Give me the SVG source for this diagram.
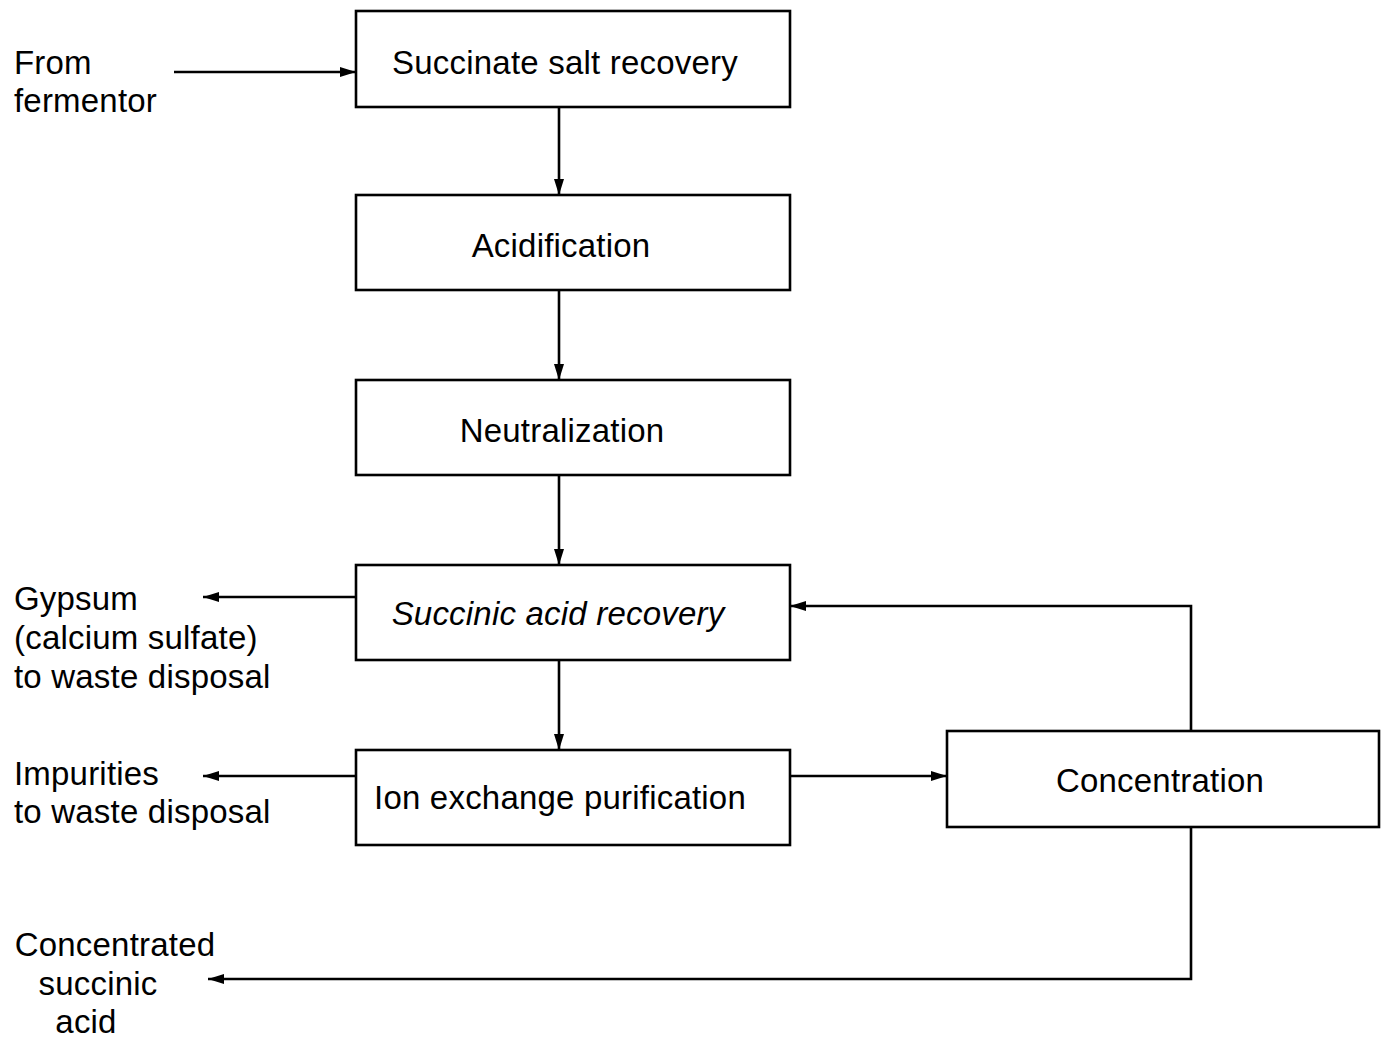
<svg xmlns="http://www.w3.org/2000/svg" width="1386" height="1039" viewBox="0 0 1386 1039">
<style>
.box{fill:#fff;stroke:#000;stroke-width:2.6}
.ln{fill:none;stroke:#000;stroke-width:2.6}
text{font-family:"Liberation Sans",Arial,sans-serif;font-size:33px;fill:#000;letter-spacing:0.2px}
.c{text-anchor:middle}
</style>
<defs>
<marker id="ah" viewBox="0 0 16 12" refX="16" refY="6" markerWidth="16" markerHeight="12" markerUnits="userSpaceOnUse" orient="auto">
<path d="M0,1 L16,6 L0,11 Z" fill="#000"/>
</marker>
</defs>
<rect width="1386" height="1039" fill="#fff"/>
<g id="connectors">
<line class="ln" x1="174" y1="72" x2="356" y2="72" marker-end="url(#ah)"/>
<line class="ln" x1="559" y1="107" x2="559" y2="195" marker-end="url(#ah)"/>
<line class="ln" x1="559" y1="290" x2="559" y2="380" marker-end="url(#ah)"/>
<line class="ln" x1="559" y1="475" x2="559" y2="565" marker-end="url(#ah)"/>
<line class="ln" x1="559" y1="660" x2="559" y2="750" marker-end="url(#ah)"/>
<line class="ln" x1="356" y1="597" x2="203" y2="597" marker-end="url(#ah)"/>
<line class="ln" x1="356" y1="776" x2="203" y2="776" marker-end="url(#ah)"/>
<line class="ln" x1="790" y1="776" x2="947" y2="776" marker-end="url(#ah)"/>
<polyline class="ln" points="1191,731 1191,606 790,606" marker-end="url(#ah)"/>
<polyline class="ln" points="1191,827 1191,979 208,979" marker-end="url(#ah)"/>
</g>
<g id="n1"><rect class="box" x="356" y="11" width="434" height="96"/><text class="c" x="565" y="74">Succinate salt recovery</text></g>
<g id="n2"><rect class="box" x="356" y="195" width="434" height="95"/><text class="c" x="561" y="257">Acidification</text></g>
<g id="n3"><rect class="box" x="356" y="380" width="434" height="95"/><text class="c" x="562" y="442">Neutralization</text></g>
<g id="n4"><rect class="box" x="356" y="565" width="434" height="95"/><text class="c" x="558" y="625" font-style="italic">Succinic acid recovery</text></g>
<g id="n5"><rect class="box" x="356" y="750" width="434" height="95"/><text class="c" x="560" y="809">Ion exchange purification</text></g>
<g id="n6"><rect class="box" x="947" y="731" width="432" height="96"/><text class="c" x="1160" y="792">Concentration</text></g>
<g id="l1"><text x="14" y="74">From</text><text x="14" y="112">fermentor</text></g>
<g id="l2"><text x="14" y="610">Gypsum</text><text x="14" y="649">(calcium sulfate)</text><text x="14" y="688">to waste disposal</text></g>
<g id="l3"><text x="14" y="785">Impurities</text><text x="14" y="823">to waste disposal</text></g>
<g id="l4"><text class="c" x="115" y="956">Concentrated</text><text class="c" x="98" y="995">succinic</text><text class="c" x="86" y="1033">acid</text></g>
</svg>
